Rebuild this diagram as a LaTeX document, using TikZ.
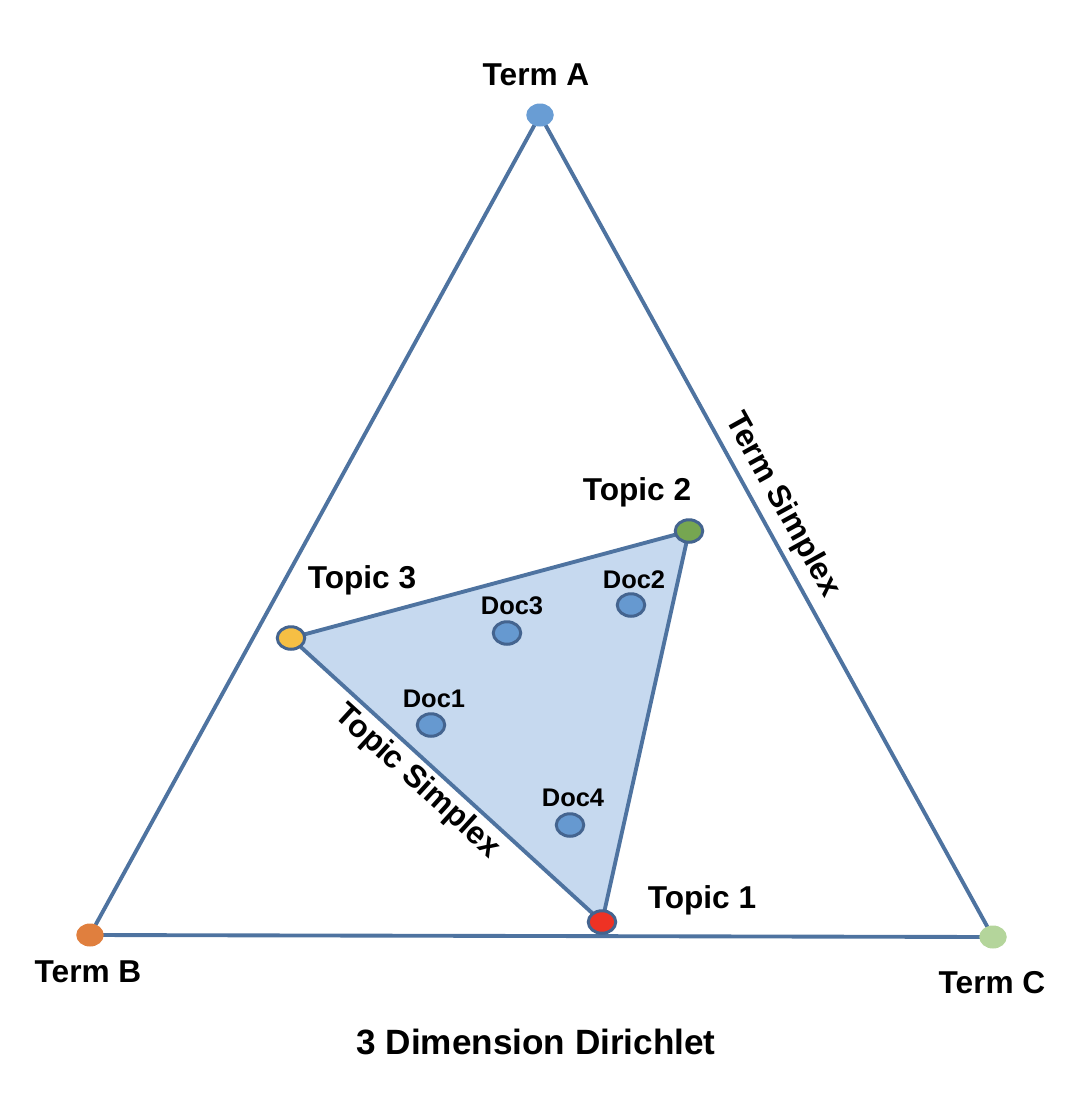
\documentclass[tikz,border=0pt]{standalone}
\usepackage{fontspec}
\setmainfont{Liberation Sans}
\usetikzlibrary{shapes.geometric,backgrounds}
\definecolor{Edge}{HTML}{4E73A0}
\definecolor{DotRim}{HTML}{44648F}
\definecolor{TopicFill}{HTML}{C6D9EF}
\definecolor{TermAFill}{HTML}{699DD4}
\definecolor{TermBFill}{HTML}{E07F3E}
\definecolor{TermCFill}{HTML}{B4D59B}
\definecolor{RedDot}{HTML}{EE3224}
\definecolor{GreenDot}{HTML}{76A651}
\definecolor{YellowDot}{HTML}{F6BF44}
\definecolor{DocBlue}{HTML}{6699D0}

\begin{document}
\begin{tikzpicture}[
      x=0.02cm,y=-0.02cm,
      termdot/.style={
        ellipse,
        inner sep=0pt,
        minimum width=0.55cm,
        minimum height=0.46cm
      },
      topicdot/.style={
        ellipse,
        draw=DotRim,
        line width=1.7pt,
        inner sep=0pt,
        minimum width=0.55cm,
        minimum height=0.45cm
      },
      docdot/.style={topicdot,fill=DocBlue},
      bigtext/.style={font=\fontsize{18}{21}\selectfont\bfseries},
      doctext/.style={font=\fontsize{14.5}{17}\selectfont\bfseries},
      simplex/.style={draw=Edge,line width=2.2pt}
    ]
      \useasboundingbox (0,0) rectangle (1068,1106);

      % term simplex corners
      \node[termdot,fill=TermAFill] (termA) at (540,115) {};
      \node[termdot,fill=TermBFill] (termB) at (90,935) {};
      \node[termdot,fill=TermCFill] (termC) at (993,937) {};

      % topic simplex corners
      \node[topicdot,fill=RedDot] (topic1) at (602,922) {};
      \node[topicdot,fill=GreenDot] (topic2) at (689,531) {};
      \node[topicdot,fill=YellowDot] (topic3) at (291,638) {};

      % documents
      \node[docdot] (doc1) at (431,725) {};
      \node[docdot] (doc2) at (631,605) {};
      \node[docdot] (doc3) at (507,633) {};
      \node[docdot] (doc4) at (570,825) {};

      \begin{scope}[on background layer]
        \fill[TopicFill] (topic1.center) -- (topic2.center) -- (topic3.center) -- cycle;
        \draw[simplex] (termA.center) -- (termB.center) -- (termC.center) -- cycle;
        \draw[simplex] (topic1.center) -- (topic2.center) -- (topic3.center) -- cycle;
      \end{scope}

      % labels
      \node[bigtext] (termAlabel) at (536,75) {Term A};
      \node[bigtext] (termBlabel) at (88,972) {Term B};
      \node[bigtext] (termClabel) at (992,983) {Term C};
      \node[bigtext] (topic1label) at (702,900) {Topic 1};
      \node[bigtext] (topic2label) at (637,492) {Topic 2};
      \node[bigtext] (topic3label) at (362,580) {Topic 3};
      \node[doctext] (doc1label) at (434,699) {Doc1};
      \node[doctext] (doc2label) at (634,580) {Doc2};
      \node[doctext] (doc3label) at (512,606) {Doc3};
      \node[doctext] (doc4label) at (573,798) {Doc4};
      \node[bigtext,rotate=-61] (termsimplex) at (782,505) {Term Simplex};
      \node[bigtext,rotate=-42.4] (topicsimplex) at (417,782) {Topic Simplex};
      \node[font=\fontsize{20}{24}\selectfont\bfseries] (title) at (536,1042) {3 Dimension Dirichlet};
    \end{tikzpicture}
\end{document}
